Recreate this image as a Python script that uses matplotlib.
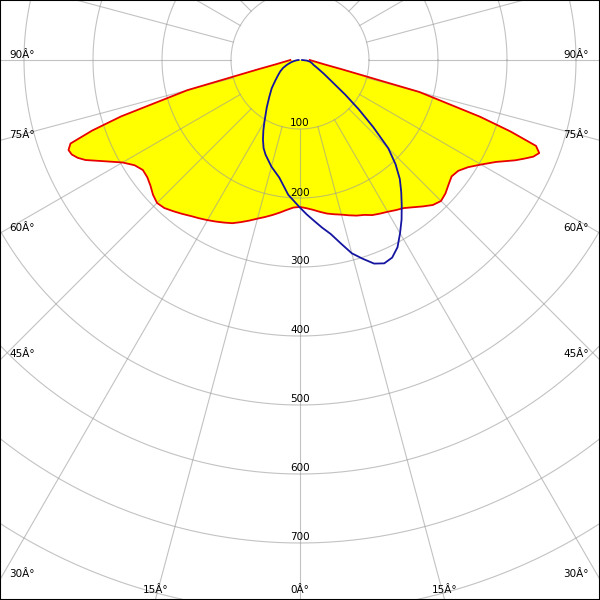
import numpy as np
import matplotlib
matplotlib.use("Agg")
import matplotlib.pyplot as plt

# ---- data (candela), angles from nadir in degrees ----
red_angles = [0, 2.5, 5, 7.5, 10, 12.5, 15, 17.5, 20, 22.5, 25, 27.5, 30, 32.5, 35, 37.5,
              40, 42.5, 45, 47.5, 50, 52.5, 55, 57.5, 60, 62.5, 65, 66.25, 67.5, 68.75,
              70, 71.25, 72.5, 75, 77.5, 80, 85, 90]
red_left = [213, 214, 218, 223, 228, 233, 238, 244, 250, 256, 260, 264, 268, 272, 276, 281,
            286, 291, 293, 289, 283, 279, 278, 284, 297, 318, 343, 352, 358, 360,
            354, 318, 272, 169, 62, 35, 20, 14]
red_right = [213, 215, 218, 222, 226, 229, 232, 236, 240, 243, 248, 251, 254, 258, 262, 269,
             277, 285, 289, 286, 281, 277, 280, 289, 303, 320, 344, 355, 366, 372,
             364, 322, 274, 179, 62, 35, 20, 14]

blue_left_angles = [0, 5, 10, 15, 20, 22.5, 25, 27.5, 30, 35, 40, 45, 50, 55, 60, 65,
                    70, 75, 80, 85, 90]
blue_left = [214, 196, 173, 160, 146, 138, 127, 115, 103, 84, 69, 58, 47, 39, 33, 27,
             20, 14, 9, 5, 2]

blue_right_angles = [0, 2.5, 5, 7.5, 10, 12.5, 15, 17.5, 20, 22.5, 25, 27.5, 30, 32.5, 35,
                     37.5, 40, 42.5, 45, 47.5, 50, 52.5, 55, 60, 65, 70, 75, 80, 85, 90]
blue_right = [214, 224, 234, 245, 256, 272, 290, 302, 314, 319, 316, 306, 290, 274, 257,
              241, 225, 205, 181, 144, 111, 83, 61, 40, 28, 21, 18, 15, 10, 3]

circle_values = [100, 200, 300, 400, 500, 600, 700, 800, 900, 1000]
circle_labels = ["100", "200", "300", "400", "500", "600", "700"]
edge_angles = [90, 75, 60, 45, 30]
bottom_angles = [15, 0]

# ---- geometry ----
S = 0.69                      # pixels per cd
W, H = 600, 600
CX, CY = 300, 60              # pole in pixels
xmin, xmax = -CX / S, (W - CX) / S
ymax, ymin = CY / S, -(H - CY) / S
px = 1.0 / S                  # one pixel in data units


def xy(angles, vals, side):
    a = np.radians(np.asarray(angles, float))
    r = np.asarray(vals, float)
    return side * r * np.sin(a), -r * np.cos(a)


fig = plt.figure(figsize=(6, 6), dpi=100)
ax = fig.add_axes([0, 0, 1, 1])
ax.set_xlim(xmin, xmax)
ax.set_ylim(ymin, ymax)
ax.set_aspect("equal")
ax.set_xticks([])
ax.set_yticks([])
for sp in ax.spines.values():
    sp.set_color("black")
    sp.set_linewidth(1.5)
    sp.set_zorder(10)

# red / yellow surface
lx, ly = xy(red_angles, red_left, -1)
rx, ry = xy(red_angles, red_right, 1)
redx = np.concatenate([lx[::-1], rx])
redy = np.concatenate([ly[::-1], ry])
ax.fill(redx, redy, color="#ffff00", zorder=1, lw=0)

# grid
gc = "#9a9a9a"
t = np.linspace(0, 2 * np.pi, 720)
for v in circle_values:
    ax.plot(v * np.cos(t), v * np.sin(t), color=gc, lw=0.8, alpha=0.6, zorder=2)
for a in range(0, 360, 15):
    ar = np.radians(a)
    ax.plot([100 * np.sin(ar), 1500 * np.sin(ar)], [-100 * np.cos(ar), -1500 * np.cos(ar)],
            color=gc, lw=0.8, alpha=0.6, zorder=2)

ax.plot(redx, redy, color="#e80000", lw=1.3, zorder=3, solid_joinstyle="round")

blx, bly = xy(blue_left_angles, blue_left, -1)
brx, bry = xy(blue_right_angles, blue_right, 1)
ax.plot(np.concatenate([blx[::-1], brx]), np.concatenate([bly[::-1], bry]),
        color="#1414a0", lw=1.3, zorder=4, solid_joinstyle="round")

fs = 7.5
for lab in circle_labels:
    v = float(lab)
    ax.text(0, -v + 2.5 * px, lab, ha="center", va="baseline", fontsize=fs,
            color="black", zorder=5)

for a in edge_angles:
    yc = -(-xmin) / np.tan(np.radians(a)) if a != 90 else 0.0
    ax.text(xmin + 9 * px, yc + 2.5 * px, f"{a}Â°", ha="left", va="baseline",
            fontsize=fs, zorder=5)
    ax.text(xmax - 11 * px, yc + 2.5 * px, f"{a}Â°", ha="right", va="baseline",
            fontsize=fs, zorder=5)

for a in bottom_angles:
    xc = (-ymin) * np.tan(np.radians(a))
    ax.text(-xc, ymin + 7 * px, f"{a}Â°", ha="center", va="baseline", fontsize=fs, zorder=5)
    if a != 0:
        ax.text(xc, ymin + 7 * px, f"{a}Â°", ha="center", va="baseline", fontsize=fs, zorder=5)

fig.savefig("out.png", dpi=100)
